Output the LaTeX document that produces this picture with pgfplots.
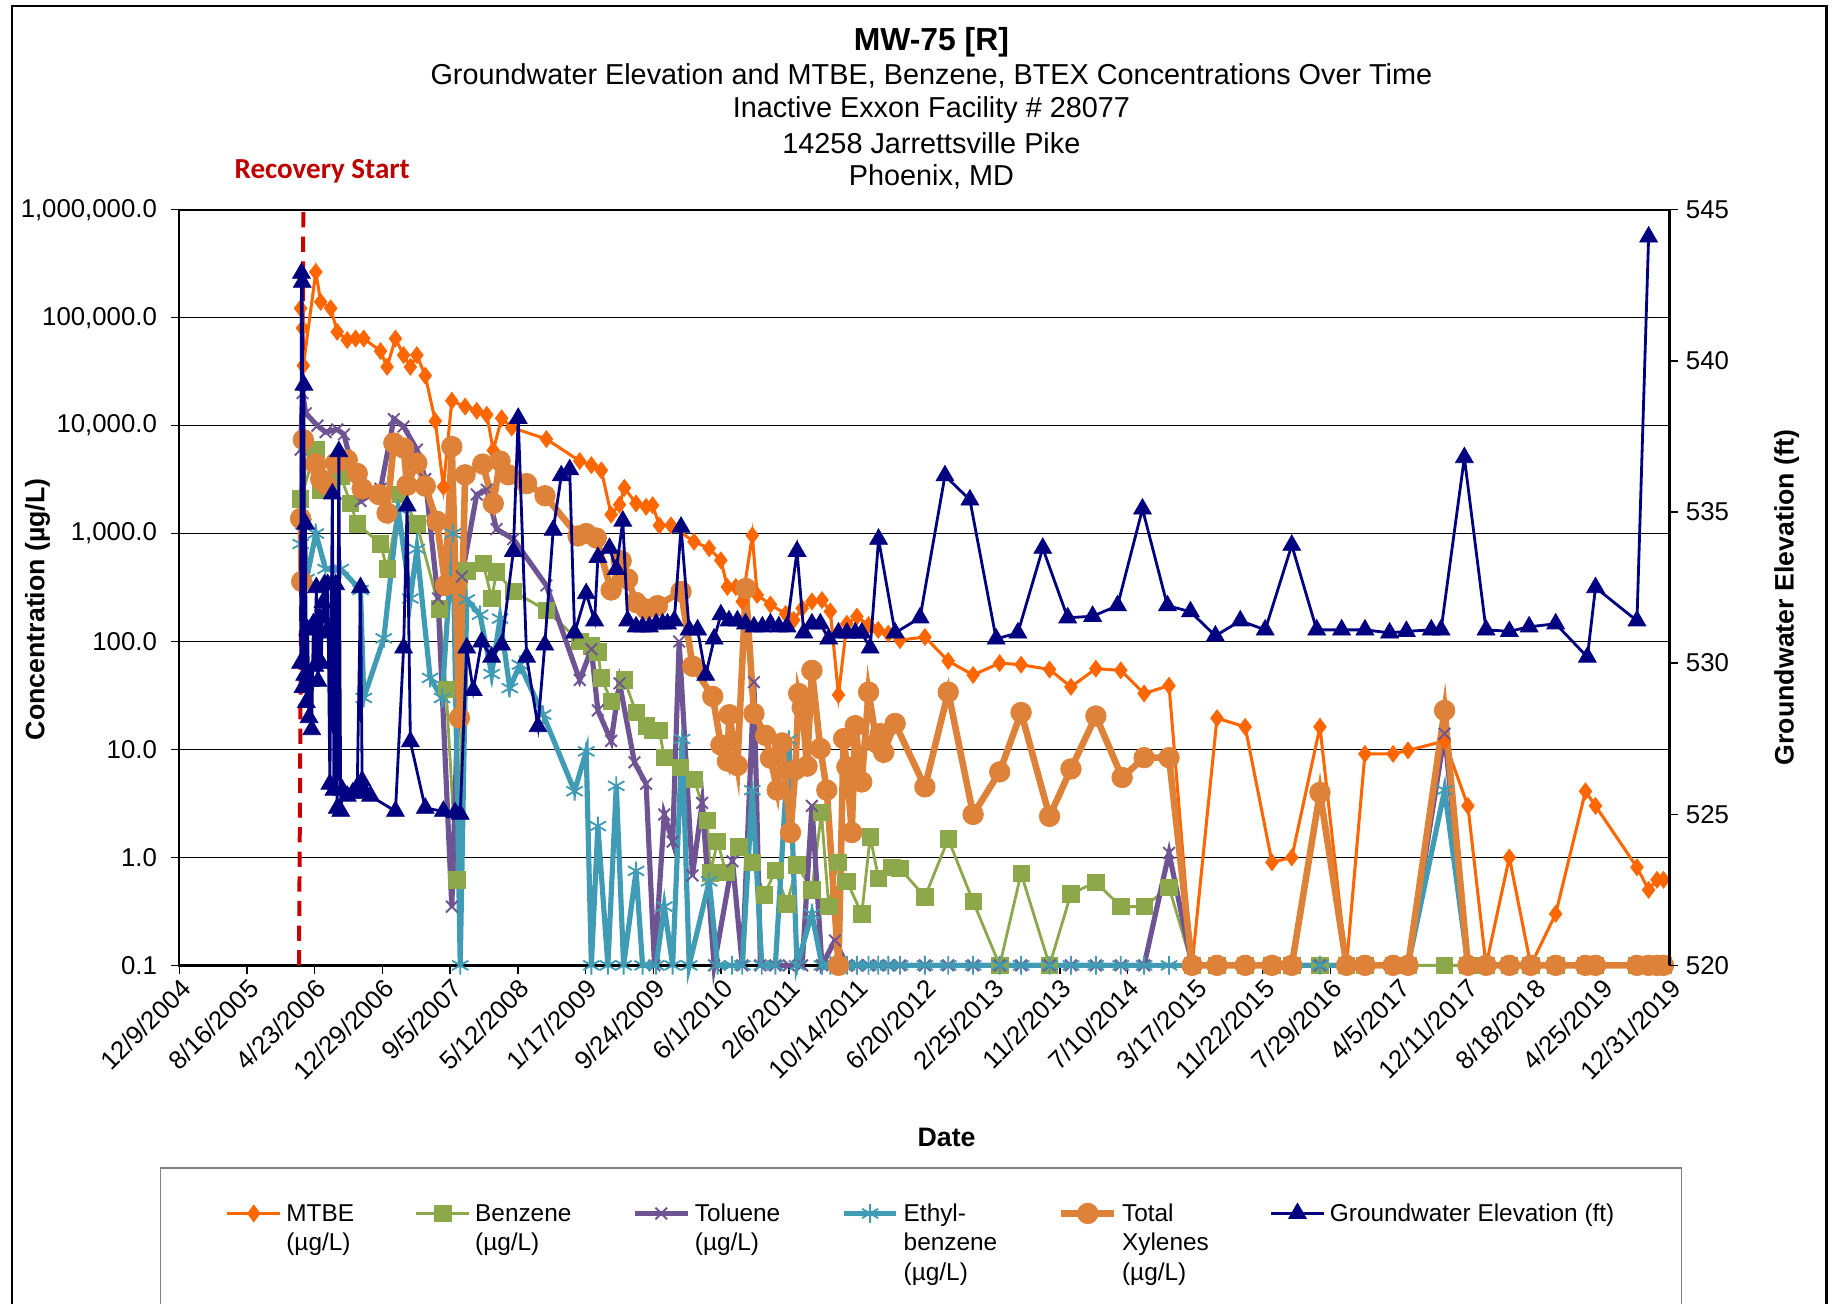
\documentclass[border=0pt]{standalone}
\usepackage{pgfplots}
\usepackage{pgfplotstable}
\pgfplotsset{compat=1.18}
\usepackage{fontspec}
\setmainfont{Liberation Sans}
\newfontfamily\calibri{Carlito}
\definecolor{cMTBE}{RGB}{255,102,0}
\definecolor{cBenz}{RGB}{140,168,75}
\definecolor{cTol}{RGB}{110,84,146}
\definecolor{cEth}{RGB}{64,155,181}
\definecolor{cXyl}{RGB}{222,130,58}
\definecolor{cGW}{RGB}{0,0,128}
\definecolor{cRed}{RGB}{200,0,0}
\pgfplotsset{
 smtbe/.style={color=cMTBE, line width=1.3pt, mark=diamond*, mark size=3.6pt, mark options={solid, line width=0.3pt}},
 sbenz/.style={color=cBenz, line width=1.2pt, mark=square*, mark size=3.5pt, mark options={solid, line width=0.3pt}},
 stol/.style={color=cTol, line width=2.2pt, mark=x, mark size=3.5pt, mark options={solid, line width=0.8pt}},
 seth/.style={color=cEth, line width=2.2pt, mark=asterisk, mark size=4pt, mark options={solid, line width=0.8pt}},
 sxyl/.style={color=cXyl, line width=2.8pt, mark=*, mark size=4.4pt, mark options={solid, line width=0.3pt}},
 sgw/.style={color=cGW, line width=1.2pt, mark=triangle*, mark size=4.4pt, mark options={solid, line width=0.3pt}},
}
\pgfplotstableread{
x y
448 122000
455 80000
458 36000
504 265000
522 140000
559 122000
583 74000
620 62000
651 64000
681 64000
743 49000
767 35000
798 64000
828 45000
853 35000
877 45000
908 29000
945 11000
975 2700
1006 17000
1055 15000
1098 13700
1135 12600
1159 5900
1190 11700
1227 9600
1355 7500
1478 4700
1521 4300
1558 3850
1594 1500
1625 1850
1643 2650
1686 1900
1723 1770
1747 1830
1772 1190
1815 1190
1900 840
1956 730
1999 565
2023 320
2054 320
2078 235
2115 960
2133 270
2182 220
2238 180
2268 158
2299 203
2335 235
2372 242
2403 190
2433 32
2464 146
2501 170
2544 142
2580 128
2617 118
2660 103
2752 110
2838 66
2930 49
3028 63
3107 61
3212 55
3291 38
3383 56
3475 54
3561 33
3653 39
3738 0.1
3830 19.5
3934 16.2
4033 0.9
4106 1.0
4210 16.2
4308 0.1
4376 9.1
4480 9.1
4535 9.8
4670 12
4756 3.0
4823 0.1
4909 1.0
4988 0.1
5080 0.3
5190 4.1
5227 3.0
5380 0.81
5423 0.50
5454 0.62
5478 0.62
}\tMTBE
\pgfplotstableread{
x y
448 2100
504 6000
522 2500
559 2600
596 3400
632 1900
657 1230
743 800
767 470
817 2300
877 1230
960 200
985 36
1025 0.62
1061 450
1122 530
1153 250
1171 440
1233 290
1355 195
1478 100
1521 91
1545 80
1558 46
1594 28
1643 44
1686 22
1723 16.5
1747 15
1772 15
1790 8.4
1850 6.8
1900 5.3
1949 2.2
1960 0.72
1987 1.4
2017 0.73
2066 1.25
2115 0.9
2160 0.45
2200 0.76
2243 0.37
2280 0.85
2335 0.5
2370 2.6
2397 0.35
2430 0.9
2464 0.6
2519 0.30
2550 1.55
2581 0.64
2630 0.81
2660 0.79
2752 0.43
2838 1.48
2930 0.39
3028 0.1
3107 0.71
3212 0.1
3291 0.46
3383 0.59
3475 0.35
3561 0.35
3653 0.53
3738 0.1
3830 0.1
3934 0.1
4033 0.1
4106 0.1
4210 0.1
4308 0.1
4376 0.1
4480 0.1
4535 0.1
4670 0.1
4756 0.1
4823 0.1
4909 0.1
4988 0.1
5080 0.1
5190 0.1
5227 0.1
5380 0.1
5423 0.1
5454 0.1
5478 0.1
}\tBenz
\pgfplotstableread{
x y
448 6000
455 20000
467 13000
510 10000
540 8700
583 9200
608 8300
669 2000
743 2600
792 11500
828 9800
877 6000
908 3200
955 250
1006 0.35
1043 400
1098 2300
1135 2550
1171 1100
1233 890
1355 330
1478 44
1521 85
1545 23
1594 12
1625 41
1680 7.6
1723 4.8
1754 0.1
1790 2.5
1821 1.4
1845 100
1894 0.68
1930 3.2
1974 0.1
2042 0.92
2078 0.1
2121 42
2145 0.1
2200 0.1
2250 0.1
2299 0.1
2335 3.0
2372 0.1
2420 0.17
2464 0.1
2501 0.1
2544 0.1
2580 0.1
2617 0.1
2660 0.1
2752 0.1
2838 0.1
2930 0.1
3028 0.1
3107 0.1
3212 0.1
3291 0.1
3383 0.1
3475 0.1
3561 0.1
3653 1.1
3738 0.1
3830 0.1
3934 0.1
4033 0.1
4106 0.1
4210 0.1
4308 0.1
4376 0.1
4480 0.1
4535 0.1
4670 14
4756 0.1
4823 0.1
4909 0.1
4988 0.1
5080 0.1
5190 0.1
5227 0.1
5380 0.1
5423 0.1
5454 0.1
5478 0.1
}\tTol
\pgfplotstableread{
x y
448 800
458 1230
470 380
504 1000
540 470
596 470
669 300
681 30
755 107
808 1700
853 250
877 720
926 46
970 30
1010 1000
1037 0.1
1061 245
1110 177
1153 50
1184 163
1220 37
1257 61
1343 21
1459 4.1
1502 9.6
1521 0.1
1545 1.95
1582 0.1
1613 4.6
1640 0.1
1686 0.75
1710 0.1
1760 0.1
1790 0.35
1821 0.1
1856 12.5
1882 0.1
1956 0.6
1987 0.1
2040 0.1
2078 0.1
2115 4.2
2150 0.1
2200 0.1
2250 12.3
2280 0.1
2335 0.3
2372 0.1
2403 0.1
2433 0.1
2464 0.1
2501 0.1
2544 0.1
2580 0.1
2617 0.1
2660 0.1
2752 0.1
2838 0.1
2930 0.1
3028 0.1
3107 0.1
3212 0.1
3291 0.1
3383 0.1
3475 0.1
3561 0.1
3653 0.1
3738 0.1
3830 0.1
3934 0.1
4033 0.1
4106 0.1
4210 0.1
4308 0.1
4376 0.1
4480 0.1
4535 0.1
4670 4.2
4756 0.1
4823 0.1
4909 0.1
4988 0.1
5080 0.1
5190 0.1
5227 0.1
5380 0.1
5423 0.1
5454 0.1
5478 0.1
}\tEth
\pgfplotstableread{
x y
448 1380
452 360
458 7400
504 4400
522 3200
540 2850
577 4500
620 4800
657 3600
675 2600
736 2300
767 1550
792 6900
828 6200
841 2800
877 4500
908 2750
951 1300
982 330
1006 6400
1034 19.6
1055 3500
1120 4400
1159 1900
1184 4700
1215 3500
1282 2900
1350 2240
1472 950
1502 1000
1539 910
1594 300
1631 560
1655 380
1686 230
1723 200
1765 215
1852 290
1895 59
1969 31
1999 11
2023 7.8
2030 21
2060 7.1
2091 310
2121 21.5
2164 13.5
2182 8.3
2207 4.2
2225 11.5
2256 1.7
2274 6.5
2286 33
2299 24.5
2317 7
2335 54
2366 10.2
2390 4.2
2433 0.1
2452 12.6
2464 6.9
2482 1.7
2495 16.6
2519 5.0
2544 34
2574 11.5
2587 14
2600 9.4
2642 17.4
2752 4.5
2838 34
2930 2.5
3028 6.2
3107 22
3212 2.4
3291 6.6
3383 20.4
3480 5.5
3561 8.4
3653 8.4
3738 0.1
3830 0.1
3934 0.1
4033 0.1
4106 0.1
4210 4.0
4308 0.1
4376 0.1
4480 0.1
4535 0.1
4670 23
4756 0.1
4823 0.1
4909 0.1
4988 0.1
5080 0.1
5190 0.1
5227 0.1
5380 0.1
5423 0.1
5454 0.1
5478 0.1
}\tXyl
\pgfplotstableread{
x y
448 530.0
451 542.9
454 542.6
457 529.2
460 539.2
463 529.6
466 534.6
469 528.7
474 531.1
479 528.2
484 529.4
489 527.8
495 531.3
500 529.9
506 532.5
512 529.4
518 531.5
524 530.0
530 532.0
536 532.6
542 531.0
548 532.6
556 526.0
565 535.6
571 525.8
577 532.6
583 525.2
589 537.0
596 525.1
602 525.8
620 525.6
640 525.7
657 525.9
669 532.5
675 526.1
687 525.7
706 525.6
798 525.1
828 530.5
841 535.2
853 527.4
908 525.2
975 525.1
1018 525.05
1037 525.0
1061 530.5
1085 529.1
1116 530.7
1153 530.2
1190 530.6
1233 533.7
1251 538.1
1282 530.2
1324 527.9
1349 530.6
1380 534.4
1410 536.2
1441 536.4
1459 531.0
1502 532.3
1533 531.4
1545 533.5
1588 533.8
1613 533.1
1637 534.7
1655 531.4
1686 531.2
1710 531.2
1735 531.2
1760 531.3
1784 531.3
1802 531.3
1827 531.4
1852 534.5
1882 531.1
1913 531.1
1943 529.6
1974 530.8
1999 531.6
2029 531.4
2060 531.4
2090 531.3
2121 531.2
2152 531.2
2182 531.3
2213 531.2
2243 531.2
2280 533.7
2305 531.0
2335 531.3
2366 531.3
2397 530.8
2433 531.0
2464 531.0
2495 531.0
2519 531.0
2550 530.5
2581 534.1
2642 531.0
2734 531.5
2826 536.2
2918 535.4
3015 530.8
3095 531.0
3187 533.8
3279 531.5
3371 531.55
3463 531.9
3555 535.1
3647 531.9
3732 531.7
3824 530.9
3916 531.4
4008 531.1
4106 533.9
4198 531.1
4290 531.1
4376 531.1
4467 531.0
4529 531.05
4621 531.1
4657 531.1
4743 536.8
4823 531.1
4909 531.05
4982 531.2
5080 531.3
5197 530.2
5227 532.5
5380 531.4
5423 544.1
}\tGW
\begin{document}
\begin{tikzpicture}
\useasboundingbox (0,0) rectangle (784pt,556.5pt);
\fill[white] (0,0) rectangle (784pt,556.5pt);
\draw[line width=0.9pt] (5pt,-20pt) rectangle (779.5pt,554pt);
\draw[gray, line width=0.6pt] (68.5pt,-20pt) rectangle (717.5pt,58pt);
\node[font=\bfseries\fontsize{13.6}{16}\selectfont] at (397.5pt,538.5pt) {MW-75 [R]};
\node[font=\fontsize{12.3}{14}\selectfont] at (397.5pt,524pt) {Groundwater Elevation and MTBE, Benzene, BTEX Concentrations Over Time};
\node[font=\fontsize{12.3}{14}\selectfont] at (397.5pt,509.5pt) {Inactive Exxon Facility \# 28077};
\node[font=\fontsize{12.3}{14}\selectfont] at (397.5pt,495.5pt) {14258 Jarrettsville Pike};
\node[font=\fontsize{12.3}{14}\selectfont] at (397.5pt,481pt) {Phoenix, MD};
\node[font=\calibri\bfseries\fontsize{12.4}{14}\selectfont, text=cRed!95!black] at (137.5pt,483.5pt) {Recovery Start};
\node[font=\bfseries\fontsize{11.4}{13}\selectfont, rotate=90] at (16pt,296.5pt) {Concentration (µg/L)};
\node[font=\bfseries\fontsize{11.4}{13}\selectfont, rotate=90] at (762.5pt,301.5pt) {Groundwater Elevation (ft)};
\node[font=\bfseries\fontsize{11.4}{13}\selectfont] at (404pt,71pt) {Date};
\begin{axis}[
  at={(76.5pt,144.5pt)}, anchor=south west,
  scale only axis, width=636pt, height=322.5pt,
  xmin=0, xmax=5500, ymode=log, ymin=0.1, ymax=1000000,
  clip=false,
  axis line style={line width=1pt},
  tick pos=left, tick align=outside, major tick length=3.5pt,
  every tick/.style={black, line width=0.6pt},
  yminorticks=false,
  ymajorgrids, major grid style={black, line width=0.5pt},
  ytick={0.1,1,10,100,1000,10000,100000,1000000},
  yticklabels={0.1,1.0,10.0,100.0,{1,000.0},{10,000.0},{100,000.0},{1,000,000.0}},
  yticklabel style={font=\fontsize{11}{13}\selectfont, xshift=-2.5pt},
  xtick={0,250,...,5500},
  xticklabels={12/9/2004,8/16/2005,4/23/2006,12/29/2006,9/5/2007,5/12/2008,1/17/2009,9/24/2009,6/1/2010,2/6/2011,10/14/2011,6/20/2012,2/25/2013,11/2/2013,7/10/2014,3/17/2015,11/22/2015,7/29/2016,4/5/2017,12/11/2017,8/18/2018,4/25/2019,12/31/2019},
  xticklabel style={rotate=45, anchor=north east, inner sep=1pt, font=\fontsize{11}{13}\selectfont},
  /pgf/number format/assume math mode=true,
]
\addplot[smtbe] table {\tMTBE};
\addplot[sbenz] table {\tBenz};
\addplot[stol] table {\tTol};
\addplot[seth] table {\tEth};
\addplot[sxyl] table {\tXyl};
\addplot[cRed, line width=1.7pt, dash pattern=on 6.5pt off 4pt] coordinates {(442,0.1) (458,1000000)};
\end{axis}
\begin{axis}[
  at={(76.5pt,144.5pt)}, anchor=south west,
  scale only axis, width=636pt, height=322.5pt,
  xmin=0, xmax=5500, ymin=520, ymax=545,
  clip=false,
  axis x line=none, axis y line*=right,
  axis line style={line width=1pt},
  tick align=outside, major tick length=3.5pt,
  every tick/.style={black, line width=0.6pt},
  ytick={520,525,...,545},
  yticklabel style={font=\fontsize{11}{13}\selectfont},
  /pgf/number format/assume math mode=true,
  legend style={at={(0.031,-0.305)}, anchor=north west, draw=none, fill=none, inner sep=0pt,
    legend columns=6, font=\fontsize{10.4}{12.5}\selectfont,
    /tikz/every even column/.append style={column sep=24pt},
    cells={anchor=base west}},
  legend image code/.code={\draw[mark repeat=2,mark phase=2,#1] plot coordinates {(0pt,0pt) (11.25pt,0pt) (22.5pt,0pt)};},
]
\addlegendimage{smtbe}
\addlegendentry{\raisebox{-0.33em}{\begin{tabular}[t]{@{}l@{}}MTBE\\(µg/L)\end{tabular}}}
\addlegendimage{sbenz}
\addlegendentry{\raisebox{-0.33em}{\begin{tabular}[t]{@{}l@{}}Benzene\\(µg/L)\end{tabular}}}
\addlegendimage{stol}
\addlegendentry{\raisebox{-0.33em}{\begin{tabular}[t]{@{}l@{}}Toluene\\(µg/L)\end{tabular}}}
\addlegendimage{seth}
\addlegendentry{\raisebox{-0.33em}{\begin{tabular}[t]{@{}l@{}}Ethyl-\\benzene\\(µg/L)\end{tabular}}}
\addlegendimage{sxyl}
\addlegendentry{\raisebox{-0.33em}{\begin{tabular}[t]{@{}l@{}}Total\\Xylenes\\(µg/L)\end{tabular}}}
\addplot[sgw] table {\tGW};
\addlegendentry{\raisebox{-0.33em}{Groundwater Elevation (ft)}}
\end{axis}
\end{tikzpicture}
\end{document}
